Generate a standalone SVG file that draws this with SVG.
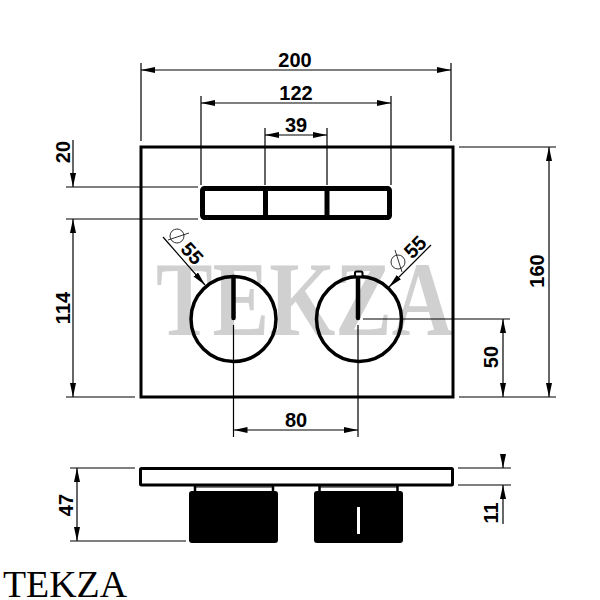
<svg xmlns="http://www.w3.org/2000/svg" width="600" height="600" viewBox="0 0 600 600">
<style>
.thin{stroke:#000;stroke-width:1.2;fill:none}
.hair{stroke:#000;stroke-width:.8;fill:none}
.dim{stroke:#000;stroke-width:1.2;fill:none;marker-start:url(#arrowS);marker-end:url(#arrowE)}
.one{stroke:#000;stroke-width:1.2;fill:none;marker-end:url(#arrowE)}
.heavy{stroke:#000;stroke-width:3;fill:none}
.knob{stroke:#000;stroke-width:3.5;fill:none}
.slot{stroke:#000;stroke-width:5;fill:none}
.stem{stroke:#000;stroke-width:2.5;fill:none}
.lbl{font-family:"Liberation Sans",Arial,sans-serif;font-weight:700;font-size:20px;fill:#000;text-anchor:middle}
</style>
<defs>
<marker id="arrowE" markerUnits="userSpaceOnUse" markerWidth="16" markerHeight="8" refX="14" refY="3" orient="auto"><path d="M0 0L14 3L0 6Z" fill="#000"/></marker>
<marker id="arrowS" markerUnits="userSpaceOnUse" markerWidth="16" markerHeight="8" refX="0" refY="3" orient="auto"><path d="M14 0L0 3L14 6Z" fill="#000"/></marker>
</defs>
<rect width="600" height="600" fill="#fff"/>
<text id="watermark" x="156" y="335" font-family="'Liberation Serif','Times New Roman',serif" font-weight="700" font-size="106" fill="#d0d0d0" textLength="297" lengthAdjust="spacingAndGlyphs">TEKZA</text>
<g id="front-view">
<rect class="heavy" x="141" y="147" width="312" height="250"/>
<rect class="slot" x="202.500" y="188.500" width="187" height="29" rx="2"/>
<path class="slot" d="M265.500 188V218M327 188V218"/>
<circle class="knob" cx="233.500" cy="319" r="42.500"/>
<circle class="knob" cx="359" cy="319" r="42.500"/>
<path d="M233.500 277V318M358 277V318" stroke="#000" stroke-width="4.500" stroke-linecap="round" fill="none"/>
<rect x="355" y="271.500" width="7.500" height="5" rx="1.500" fill="#fff" stroke="#000" stroke-width="2"/>
</g>
<g id="side-view">
<rect x="140.500" y="468.500" width="312" height="16.500" rx="1" fill="#fff" stroke="#000" stroke-width="3"/>
<path class="stem" d="M195 486V491M273 486V491M319.500 486V491M397.500 486V491"/>
<path class="thin" d="M195 487H273M319.500 487H397.500"/>
<rect x="189" y="491" width="89" height="52" rx="3" fill="#000"/>
<rect x="314" y="491" width="89" height="52" rx="3" fill="#000"/>
<rect x="357" y="507" width="3" height="27" fill="#fff"/>
</g>
<g id="connectors">
<path class="thin" d="M141 63V141M451 63V141M201 96V185M391 96V185M265 128V185M327 128V185M66 187H198M66 219H198M66 397H135M459 147H556M459 397H556M363 319H510M465 397H510M233.500 325V437M358 325V437M70 468H135M70 541H186M458 468H511M458 485H511"/>
<line class="dim" x1="141" y1="70" x2="451" y2="70"/>
<line class="dim" x1="201" y1="103" x2="391" y2="103"/>
<line class="dim" x1="265" y1="135" x2="327" y2="135"/>
<line class="one" x1="73" y1="140" x2="73" y2="187"/>
<line class="dim" x1="73" y1="219" x2="73" y2="397"/>
<line class="dim" x1="549" y1="147" x2="549" y2="397"/>
<line class="dim" x1="503" y1="319" x2="503" y2="397"/>
<line class="dim" x1="233.500" y1="430" x2="358" y2="430"/>
<line class="dim" x1="77" y1="468" x2="77" y2="541"/>
<line class="one" x1="503" y1="454" x2="503" y2="468"/>
<line class="one" x1="503" y1="524" x2="503" y2="485"/>
<line class="one" x1="163" y1="237" x2="205" y2="285"/>
<line class="one" x1="431" y1="245" x2="389" y2="287"/>
</g>
<g id="phi-symbols">
<circle class="hair" cx="177" cy="236" r="7"/>
<line class="hair" x1="168" y1="240" x2="189" y2="233"/>
<circle class="hair" cx="398" cy="262" r="7"/>
<line class="hair" x1="395" y1="250" x2="402" y2="272"/>
</g>
<g id="labels">
<text class="lbl" x="295" y="67">200</text>
<text class="lbl" x="296" y="100">122</text>
<text class="lbl" x="296" y="132">39</text>
<text class="lbl" x="296" y="427">80</text>
<text class="lbl" transform="translate(70 152) rotate(-90)">20</text>
<text class="lbl" transform="translate(70 308) rotate(-90)">114</text>
<text class="lbl" transform="translate(544 271) rotate(-90)">160</text>
<text class="lbl" transform="translate(498 357) rotate(-90)">50</text>
<text class="lbl" transform="translate(73 505) rotate(-90)">47</text>
<text class="lbl" transform="translate(498 513) rotate(-90)">11</text>
<text class="lbl" transform="translate(187 258) rotate(48)">55</text>
<text class="lbl" transform="translate(420 252) rotate(-45)">55</text>
<text x="3" y="597" font-family="'Liberation Serif','Times New Roman',serif" font-size="37" fill="#000" textLength="124" lengthAdjust="spacingAndGlyphs">TEKZA</text>
</g>
</svg>
